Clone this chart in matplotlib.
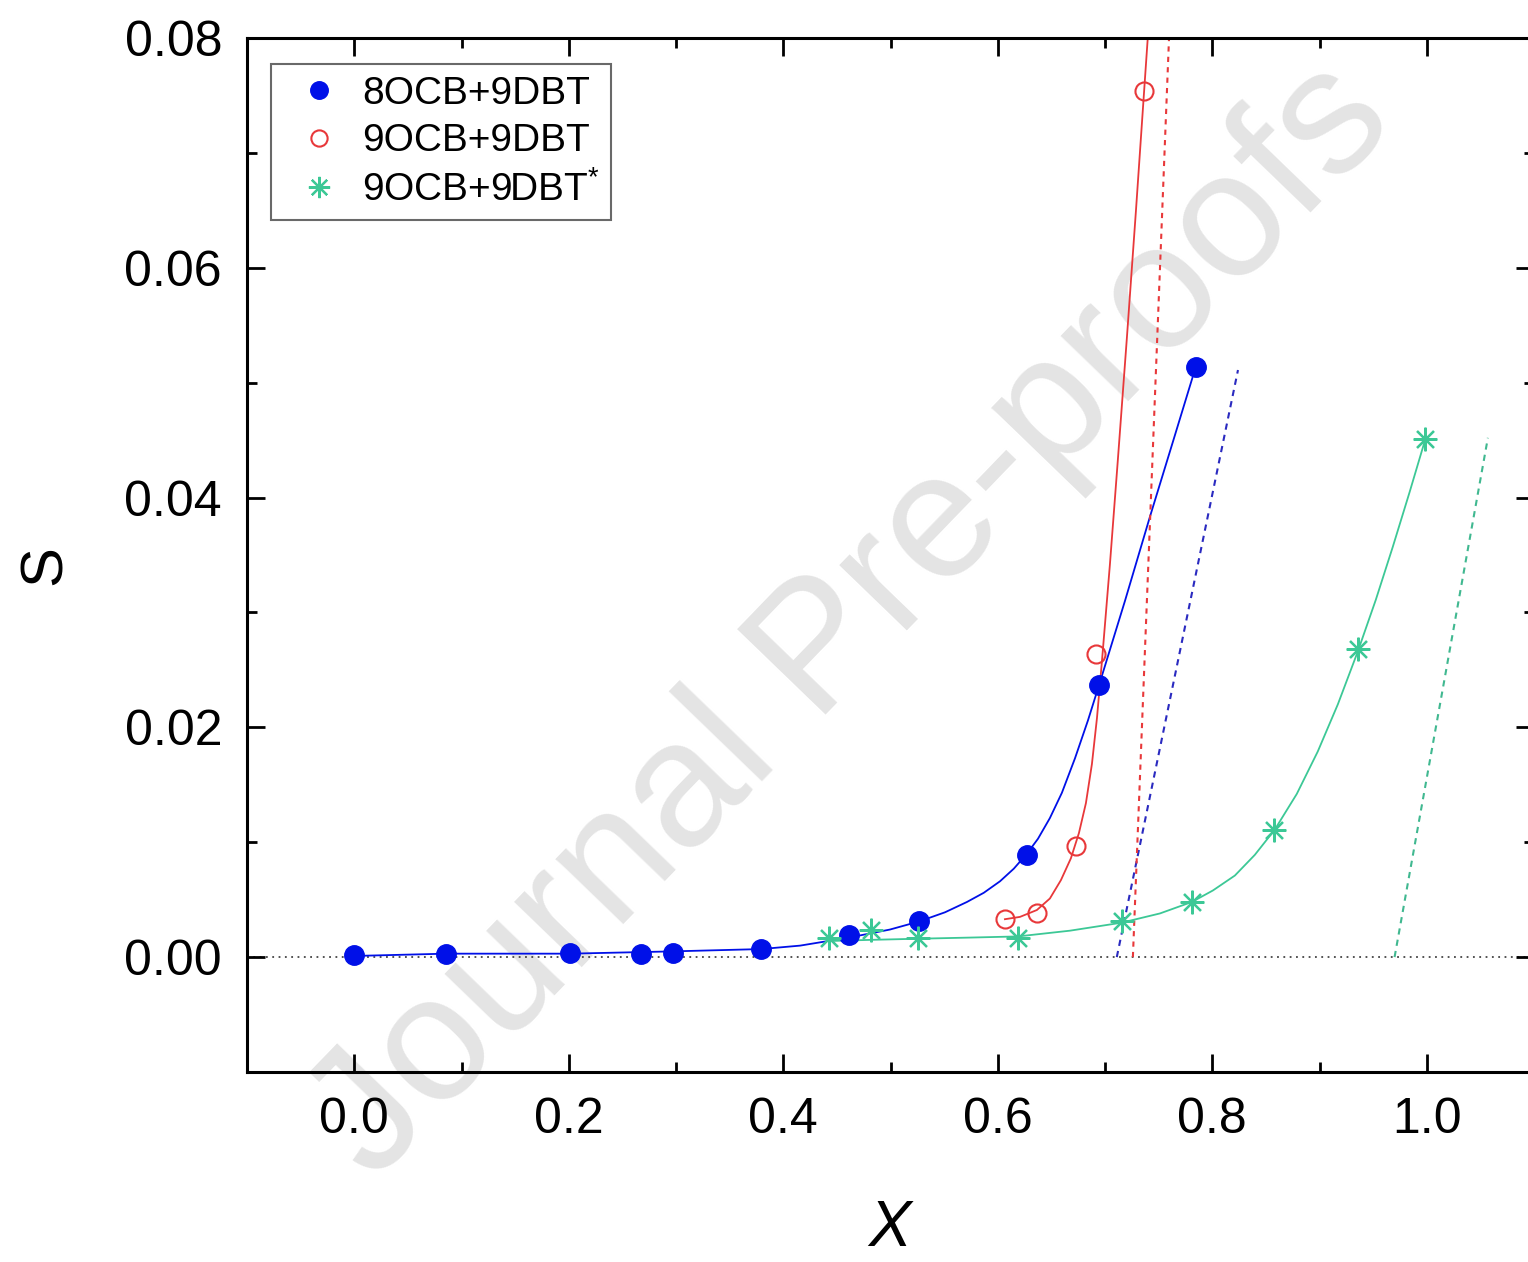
import numpy as np
import matplotlib
matplotlib.use("Agg")
import matplotlib.pyplot as plt
from matplotlib.ticker import MultipleLocator

plt.rcParams['font.family'] = ['Liberation Sans', 'DejaVu Sans']
plt.rcParams['mathtext.fontset'] = 'custom'
plt.rcParams['mathtext.rm'] = 'Liberation Sans'
plt.rcParams['mathtext.it'] = 'Liberation Sans:italic'

# measured points
x_8ocb = [0.0, 0.086, 0.201, 0.267, 0.297, 0.379, 0.461, 0.527, 0.627, 0.694, 0.785]
s_8ocb = [0.0002, 0.0003, 0.0004, 0.0003, 0.0004, 0.0007, 0.0019, 0.0031, 0.0089, 0.0237, 0.0514]

x_9ocb = [0.607, 0.637, 0.673, 0.692, 0.736]
s_9ocb = [0.0033, 0.0038, 0.0097, 0.0264, 0.0754]

x_9ocb_b = [0.443, 0.482, 0.526, 0.619, 0.716, 0.781, 0.858, 0.936, 0.998]
s_9ocb_b = [0.0017, 0.0024, 0.0017, 0.0017, 0.0031, 0.0048, 0.0111, 0.0268, 0.0451]

# fitted curves
fit_x_8ocb = [0.0, 0.0857, 0.2013, 0.2973, 0.3793, 0.4157, 0.4613, 0.4995, 0.5266, 0.5508,
              0.5713, 0.5870, 0.6021, 0.6150, 0.6272, 0.6375, 0.6486, 0.6598, 0.6720,
              0.6841, 0.6952, 0.7186, 0.7418, 0.7651, 0.7847]
fit_s_8ocb = [0.0001, 0.0003, 0.0003, 0.0005, 0.0007, 0.0010, 0.0017, 0.0024, 0.0031, 0.0039,
              0.0048, 0.0056, 0.0066, 0.0077, 0.0090, 0.0103, 0.0121, 0.0143, 0.0173,
              0.0206, 0.0239, 0.0310, 0.0383, 0.0454, 0.0514]

fit_x_9ocb = [0.6067, 0.6207, 0.6365, 0.6486, 0.6589, 0.6682, 0.6757, 0.6822, 0.6878,
              0.6925, 0.6971, 0.7046, 0.7120, 0.7204, 0.7288, 0.7381, 0.7409]
fit_s_9ocb = [0.0033, 0.0035, 0.0041, 0.0051, 0.0067, 0.0086, 0.0108, 0.0134, 0.0168,
              0.0208, 0.0257, 0.0342, 0.0433, 0.0539, 0.0649, 0.0776, 0.0814]

fit_x_9ocb_b = [0.4427, 0.4809, 0.5256, 0.5741, 0.6188, 0.6673, 0.7157, 0.7512, 0.7810,
                0.8006, 0.8211, 0.8397, 0.8583, 0.8788, 0.8984, 0.9171, 0.9357, 0.9525,
                0.9683, 0.9841, 0.9981]
fit_s_9ocb_b = [0.0014, 0.0015, 0.0016, 0.0017, 0.0018, 0.0023, 0.0030, 0.0038, 0.0048,
                0.0058, 0.0071, 0.0089, 0.0111, 0.0142, 0.0179, 0.0220, 0.0266, 0.0311,
                0.0357, 0.0405, 0.0449]

# limiting slopes (dashed)
tan_x_8ocb = [0.711, 0.824]
tan_s_8ocb = [0.0, 0.0511]
tan_x_9ocb = [0.726, 0.7597]
tan_s_9ocb = [0.0, 0.080]
tan_x_9ocb_b = [0.970, 1.057]
tan_s_9ocb_b = [0.0, 0.0452]

c_blue = '#0010e8'
c_red = '#e8383a'
c_green = '#3cc896'

fig = plt.figure(figsize=(15.28, 12.62), dpi=100)
ax = fig.add_axes([247 / 1528, 190 / 1262, 1287 / 1528, 1034 / 1262])
ax.patch.set_alpha(0)

fig.text(0.558, 0.508, 'Journal Pre-proofs', fontsize=129, color='#e4e4e4',
         rotation=46, ha='center', va='center', zorder=-10)

ax.axhline(0, color='#444444', lw=1.3, ls=(0, (1, 2.5)), zorder=1)

ax.plot(fit_x_8ocb, fit_s_8ocb, color=c_blue, lw=1.3, zorder=2)
ax.plot(fit_x_9ocb, fit_s_9ocb, color=c_red, lw=1.3, zorder=2)
ax.plot(fit_x_9ocb_b, fit_s_9ocb_b, color=c_green, lw=1.3, zorder=2)

ax.plot(tan_x_8ocb, tan_s_8ocb, color='#2a2ac0', lw=1.5, ls=(0, (3, 2.5)), zorder=2)
ax.plot(tan_x_9ocb, tan_s_9ocb, color=c_red, lw=1.5, ls=(0, (2.5, 2.5)), zorder=2)
ax.plot(tan_x_9ocb_b, tan_s_9ocb_b, color='#40b890', lw=1.5, ls=(0, (3, 2.5)), zorder=2)

ax.plot(x_8ocb, s_8ocb, 'o', ms=14, color=c_blue, mec=c_blue, ls='none',
        label='8OCB+9DBT', zorder=3)
ax.plot(x_9ocb, s_9ocb, 'o', ms=13, mfc='none', mec=c_red, mew=1.5, ls='none',
        label='9OCB+9DBT', zorder=3)
ax.plot(x_9ocb_b, s_9ocb_b, marker=(8, 2, 0), ms=17, color=c_green, mew=1.6, ls='none',
        label='9OCB+9DBT$^{*}$', zorder=3)

ax.set_xlim(-0.1, 1.1)
ax.set_ylim(-0.01, 0.08)
ax.xaxis.set_minor_locator(MultipleLocator(0.1))
ax.yaxis.set_minor_locator(MultipleLocator(0.01))
ax.set_xticks([0.0, 0.2, 0.4, 0.6, 0.8, 1.0])
ax.set_xticklabels(['0.0', '0.2', '0.4', '0.6', '0.8', '1.0'])
ax.set_yticks([0.0, 0.02, 0.04, 0.06, 0.08])
ax.set_yticklabels(['0.00', '0.02', '0.04', '0.06', '0.08'])

ax.tick_params(which='both', direction='in', top=True, right=True, width=2)
ax.tick_params(which='major', length=13, labelsize=36, pad=18)
ax.tick_params(which='minor', length=7)
for sp in ax.spines.values():
    sp.set_linewidth(2.2)

ax.text(0.4996, -0.152, 'X', transform=ax.transAxes, fontsize=46, style='italic',
        ha='center', va='center')
ax.text(-0.157, 0.49, 'S', transform=ax.transAxes, fontsize=43, rotation=90,
        ha='center', va='center')

leg = ax.legend(loc='upper left', bbox_to_anchor=(0.0186, 0.975), fontsize=28,
                frameon=True, fancybox=False, borderaxespad=0, handletextpad=0.17,
                labelspacing=0.3, borderpad=0.3, handlelength=1.87, markerscale=0.9)
leg.get_frame().set_edgecolor('#444444')
leg.get_frame().set_linewidth(1.5)

fig.savefig('out.png', dpi=100)
